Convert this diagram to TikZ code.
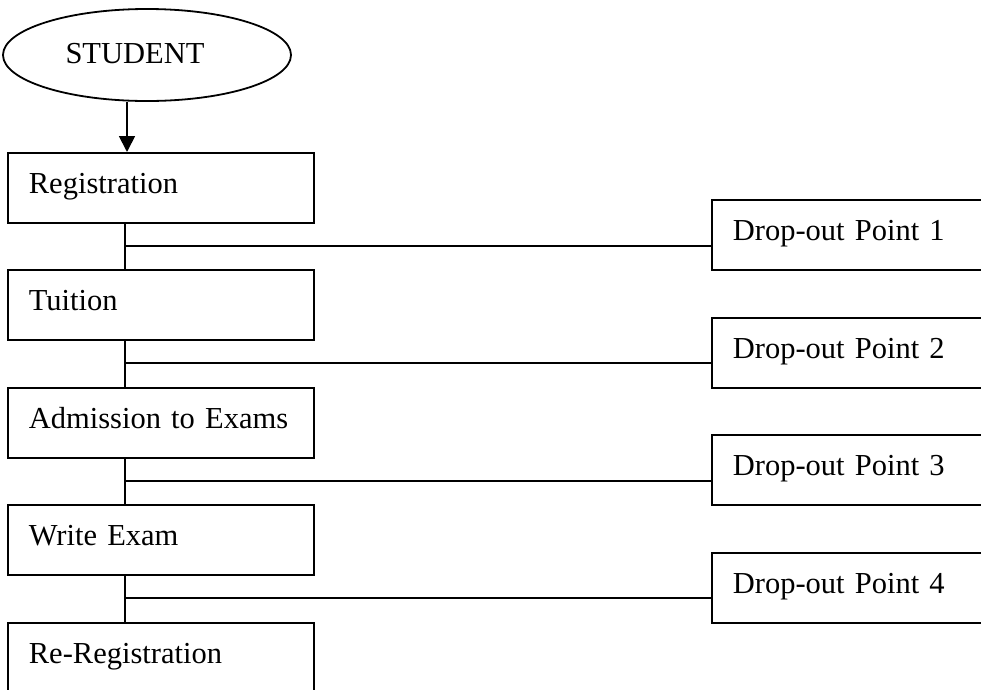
\documentclass[tikz,border=0pt]{standalone}
\usepackage{fontspec}
\setmainfont{Liberation Serif}
\usetikzlibrary{shapes.geometric,arrows.meta}
\begin{document}
\begin{tikzpicture}[x=1pt,y=-1pt, line width=1.8pt,
  every node/.style={font=\fontsize{30.5}{36}\selectfont},
  stagebox/.style={draw, rectangle, anchor=north west, minimum width=306pt, minimum height=70pt,
    inner xsep=21pt, inner ysep=0pt, text width=264pt, align=left, text height=21pt, text depth=9pt},
  dropbox/.style={draw, rectangle, anchor=north west, minimum width=300pt, minimum height=70pt,
    inner xsep=21pt, inner ysep=0pt, text width=258pt, align=left, text height=21pt, text depth=9pt},
  startshape/.style={draw, ellipse, minimum width=288pt, minimum height=92pt, inner sep=0pt},
  arrowlink/.style={-{Triangle[length=16pt,width=16pt]}}]
\useasboundingbox (0,0) rectangle (981,689);

\node[startshape] (stud) at (147,55) {};
\node[anchor=base] (studtext) at (135,63) {STUDENT};

\node[stagebox] (reg) at (7,152) {Registration};
\node[stagebox] (tui) at (7,269) {Tuition};
\node[stagebox] (adm) at (7,387) {Admission to Exams};
\node[stagebox] (wri) at (7,504) {Write Exam};
\node[stagebox] (rer) at (7,622) {Re-Registration};

\node[dropbox] (d1) at (711,199) {Drop-out Point 1};
\node[dropbox] (d2) at (711,317) {Drop-out Point 2};
\node[dropbox] (d3) at (711,434) {Drop-out Point 3};
\node[dropbox] (d4) at (711,552) {Drop-out Point 4};

\coordinate (a0) at (127,0);
\draw[arrowlink] (stud.south -| a0) -- (reg.north -| a0);

\coordinate (j1) at (125,246);
\coordinate (j2) at (125,363);
\coordinate (j3) at (125,481);
\coordinate (j4) at (125,598);

\draw (reg.south -| j1) -- (tui.north -| j1);
\draw (tui.south -| j2) -- (adm.north -| j2);
\draw (adm.south -| j3) -- (wri.north -| j3);
\draw (wri.south -| j4) -- (rer.north -| j4);

\draw (j1) -- (j1 -| d1.west);
\draw (j2) -- (j2 -| d2.west);
\draw (j3) -- (j3 -| d3.west);
\draw (j4) -- (j4 -| d4.west);
\end{tikzpicture}
\end{document}
